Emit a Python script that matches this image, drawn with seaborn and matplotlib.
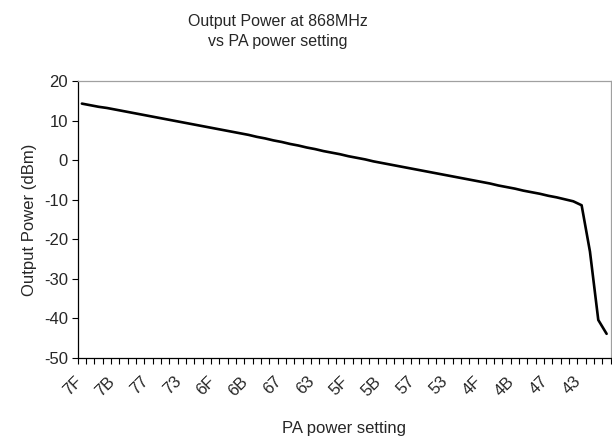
#!/usr/bin/env python
# -*- coding: utf-8 -*-
"""Output power vs PA power setting at 868MHz."""

import matplotlib
matplotlib.use("Agg")
import matplotlib.pyplot as plt
import matplotlib.transforms as mtransforms
import seaborn as sns
import pandas as pd
import numpy as np

# data: PA setting codes 0x7F down to 0x40
pa_settings = ["%X" % v for v in range(0x7F, 0x3F, -1)]
output_dbm = [
    14.3, 13.9, 13.5, 13.2, 12.8, 12.4, 12.0, 11.6,
    11.2, 10.8, 10.4, 10.0, 9.6, 9.2, 8.8, 8.4,
    8.0, 7.6, 7.2, 6.8, 6.4, 5.9, 5.5, 5.0,
    4.6, 4.1, 3.7, 3.2, 2.8, 2.3, 1.9, 1.5,
    1.0, 0.6, 0.2, -0.3, -0.7, -1.1, -1.5, -1.9,
    -2.3, -2.7, -3.1, -3.5, -3.9, -4.3, -4.7, -5.1,
    -5.5, -5.9, -6.4, -6.8, -7.2, -7.7, -8.1, -8.5,
    -9.0, -9.4, -9.9, -10.4, -11.4, -23.1, -40.4, -43.9,
]
y_ticks = [-50, -40, -30, -20, -10, 0, 10, 20]

sns.set_style("white")
plt.rcParams['font.family'] = ['Liberation Sans', 'DejaVu Sans']
plt.rcParams['font.size'] = 11

df = pd.DataFrame({"idx": np.arange(len(pa_settings)),
                   "setting": pa_settings,
                   "power": output_dbm})

fig = plt.figure(figsize=(6.12, 4.43), dpi=100)
ax = fig.add_axes([0.127, 0.192, 0.871, 0.625])

sns.lineplot(data=df, x="idx", y="power", color="black", linewidth=1.9, ax=ax)

n = len(pa_settings)
ax.set_xlim(-0.5, n - 0.5)
ax.set_ylim(-50, 20)
ax.set_yticks(y_ticks)
ax.set_yticklabels([str(t) for t in y_ticks], fontsize=12)

# category labels every 4 settings, tick marks between categories
label_idx = list(range(0, n, 4))
ax.set_xticks(label_idx)
ax.set_xticklabels([pa_settings[i] for i in label_idx], rotation=45,
                   ha="right", va="top", rotation_mode="anchor", fontsize=12)
ax.tick_params(axis="x", which="major", length=0, pad=10)
shift = mtransforms.ScaledTranslation(-8 / 100, -2 / 100, fig.dpi_scale_trans)
for lbl in ax.get_xticklabels():
    lbl.set_transform(lbl.get_transform() + shift)
ax.set_xticks(np.arange(-0.5, n, 1.0), minor=True)
ax.tick_params(axis="x", which="minor", bottom=True, direction="out",
               length=4, width=0.8, color="black")
ax.tick_params(axis="y", direction="out", length=4, width=0.8,
               color="black", left=True, pad=3)

for side in ["left", "bottom"]:
    ax.spines[side].set_color("black")
    ax.spines[side].set_linewidth(0.9)
for side in ["top", "right"]:
    ax.spines[side].set_color("#a0a0a0")
    ax.spines[side].set_linewidth(0.9)

ax.set_xlabel("PA power setting", fontsize=12, labelpad=16)
ax.set_ylabel("Output Power (dBm)", fontsize=12, labelpad=5)

fig.text(0.454, 0.968, "Output Power at 868MHz\nvs PA power setting",
         ha="center", va="top", fontsize=11.5, linespacing=1.4)

fig.savefig("out.png", dpi=100)
plt.close(fig)
